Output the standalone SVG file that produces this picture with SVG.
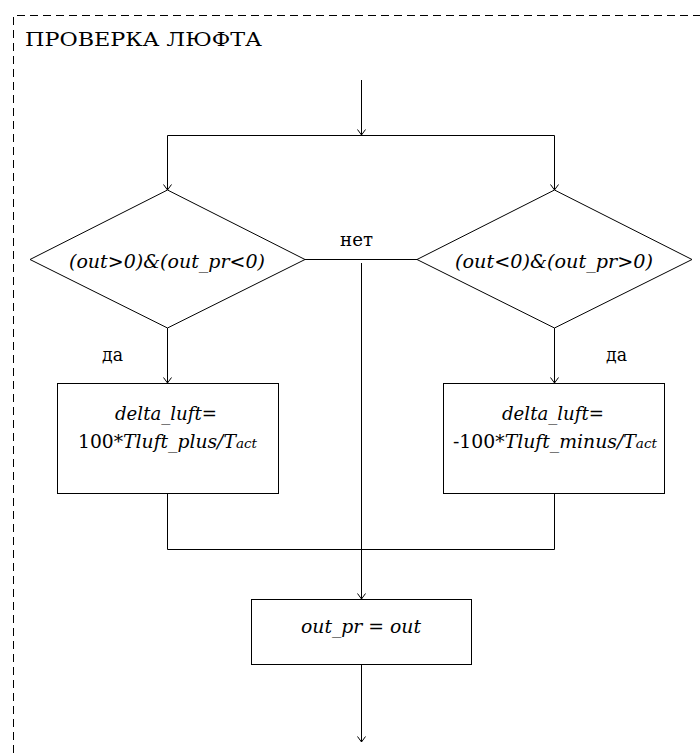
<svg xmlns="http://www.w3.org/2000/svg" width="700" height="753" viewBox="0 0 700 753">
  <style>
    .shape { fill: #fff; stroke: #000; stroke-width: 1; }
    .wire { fill: none; stroke: #000; stroke-width: 1; }
    .frame { fill: none; stroke: #000; stroke-width: 1; stroke-dasharray: 8 5; }
    .t { font-family: "DejaVu Serif", serif; font-size: 18px; fill: #000; }
    .i { font-style: italic; }
    .s { font-size: 13px; }
  </style>
  <defs>
    <marker id="arrow" viewBox="0 0 10 10" refX="9.5" refY="5" markerWidth="10" markerHeight="10" markerUnits="userSpaceOnUse" orient="auto">
      <path d="M4,1 L9.5,5 L4,9" fill="none" stroke="#000" stroke-width="1"/>
    </marker>
  </defs>
  <rect width="700" height="753" fill="#fff"/>

  <!-- module boundary -->
  <g id="frame">
    <path class="frame" d="M13.5,753 V15.5 H700"/>
    <text class="t" x="25" y="46" font-size="19" textLength="237" lengthAdjust="spacingAndGlyphs">ПРОВЕРКА ЛЮФТА</text>
  </g>

  <!-- connectors -->
  <g id="connectors">
    <path class="wire" d="M361.5,80 V135" marker-end="url(#arrow)"/>
    <path class="wire" d="M167.5,135.5 H554.5"/>
    <path class="wire" d="M167.5,135.5 V190" marker-end="url(#arrow)"/>
    <path class="wire" d="M554.5,135.5 V190" marker-end="url(#arrow)"/>
    <path class="wire" d="M305,259.5 H417"/>
    <path class="wire" d="M361.5,263 V599" marker-end="url(#arrow)"/>
    <path class="wire" d="M167.5,328 V383" marker-end="url(#arrow)"/>
    <path class="wire" d="M554.5,328 V383" marker-end="url(#arrow)"/>
    <path class="wire" d="M167.5,494 V549.5 H554.5 V494"/>
    <path class="wire" d="M361.5,665 V742" marker-end="url(#arrow)"/>
    <text class="t" x="340" y="246" textLength="33" lengthAdjust="spacingAndGlyphs">нет</text>
    <text class="t" x="102" y="361" textLength="21" lengthAdjust="spacingAndGlyphs">да</text>
    <text class="t" x="606" y="361" textLength="21" lengthAdjust="spacingAndGlyphs">да</text>
  </g>

  <g id="cond-left">
    <polygon class="shape" points="167.5,190 305,259.5 167.5,328 30,259.5"/>
    <text class="t i" x="69" y="268" textLength="196" lengthAdjust="spacingAndGlyphs">(out&gt;0)&amp;(out_pr&lt;0)</text>
  </g>

  <g id="cond-right">
    <polygon class="shape" points="554.5,190 692,259.5 554.5,328 417,259.5"/>
    <text class="t i" x="455" y="268" textLength="198" lengthAdjust="spacingAndGlyphs">(out&lt;0)&amp;(out_pr&gt;0)</text>
  </g>

  <g id="calc-plus">
    <rect class="shape" x="57.5" y="383.5" width="221" height="110"/>
    <text class="t i" x="115" y="420" textLength="102" lengthAdjust="spacingAndGlyphs">delta_luft=</text>
    <text class="t" x="78" y="448" textLength="179" lengthAdjust="spacingAndGlyphs">100*<tspan class="i">Tluft_plus/T</tspan><tspan class="i s">act</tspan></text>
  </g>

  <g id="calc-minus">
    <rect class="shape" x="443.5" y="383.5" width="221" height="110"/>
    <text class="t i" x="502" y="420" textLength="102" lengthAdjust="spacingAndGlyphs">delta_luft=</text>
    <text class="t" x="453" y="448" textLength="204" lengthAdjust="spacingAndGlyphs">-100*<tspan class="i">Tluft_minus/T</tspan><tspan class="i s">act</tspan></text>
  </g>

  <g id="store-prev">
    <rect class="shape" x="251.5" y="599.5" width="220" height="65"/>
    <text class="t i" x="301" y="633" textLength="120" lengthAdjust="spacingAndGlyphs">out_pr = out</text>
  </g>
</svg>
